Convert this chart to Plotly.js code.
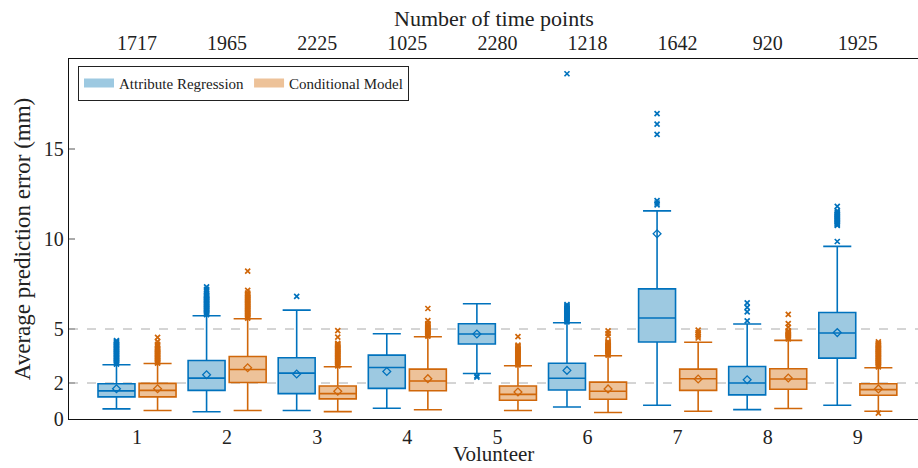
<!DOCTYPE html>
<html>
<head>
<meta charset="utf-8">
<script src="https://cdn.plot.ly/plotly-3.0.1.min.js"></script>
<style>html,body{margin:0;padding:0;background:#fff;}#chart{width:918px;height:468px;}</style>
</head>
<body>
<div id="chart"></div>
<script>
// ---- Data ----
const volunteers = [1,2,3,4,5,6,7,8,9];
const timePoints = ['1717','1965','2225','1025','2280','1218','1642','920','1925'];
const seriesNames = ['Attribute Regression','Conditional Model'];

// Attribute Regression stats
const arLow    = [0.56,0.40,0.47,0.60,2.53,0.67,0.76,0.52,0.76];
const arQ1     = [1.23,1.59,1.41,1.70,4.17,1.61,4.28,1.34,3.38];
const arMedian = [1.56,2.27,2.55,2.86,4.72,2.26,5.61,2.00,4.78];
const arQ3     = [1.96,3.25,3.40,3.55,5.29,3.10,7.23,2.92,5.92];
const arHigh   = [3.01,5.74,6.05,4.74,6.40,5.35,11.56,5.28,9.59];
const arMean   = [1.68,2.46,2.50,2.64,4.72,2.70,10.29,2.18,4.80];
const arOutliers = [
  [3.05,3.1,3.15,3.2,3.25,3.3,3.35,3.4,3.45,3.5,3.55,3.6,3.65,3.7,3.75,3.8,3.85,3.9,3.95,4.0,4.05,4.1,4.15,4.2,4.25,4.3,4.35],
  [5.8,5.85,5.9,5.95,6.0,6.05,6.1,6.15,6.2,6.25,6.3,6.35,6.4,6.45,6.5,6.55,6.6,6.65,6.7,6.75,6.8,6.85,6.9,7.0,7.1,7.2,7.34],
  [6.81],
  [],
  [2.40,2.33],
  [5.4,5.45,5.5,5.55,5.6,5.65,5.7,5.75,5.8,5.85,5.9,5.95,6.0,6.05,6.1,6.15,6.2,6.25,6.3,6.36,19.18],
  [11.9,12.0,12.13,15.81,16.38,16.97],
  [5.45,5.95,6.2,6.45],
  [9.86,10.75,10.8,10.85,10.9,10.95,11.0,11.05,11.1,11.15,11.2,11.25,11.3,11.35,11.4,11.45,11.5,11.57,11.81]
];

// Conditional Model stats
const cmLow    = [0.47,0.47,0.41,0.51,0.47,0.36,0.43,0.58,0.43];
const cmQ1     = [1.23,2.03,1.12,1.57,1.04,1.10,1.59,1.65,1.32];
const cmMedian = [1.59,2.75,1.41,2.11,1.37,1.54,2.24,2.22,1.63];
const cmQ3     = [1.98,3.47,1.83,2.77,1.83,2.05,2.77,2.79,1.96];
const cmHigh   = [3.08,5.57,2.90,4.57,2.96,3.51,4.26,4.37,2.85];
const cmMean   = [1.68,2.85,1.54,2.24,1.50,1.67,2.22,2.28,1.67];
const cmOutliers = [
  [3.1,3.15,3.2,3.25,3.3,3.35,3.4,3.45,3.5,3.55,3.6,3.65,3.7,3.75,3.8,3.85,3.9,3.95,4.05,4.15,4.3,4.54],
  [5.6,5.65,5.7,5.75,5.8,5.85,5.9,5.95,6.0,6.05,6.1,6.15,6.2,6.25,6.3,6.35,6.4,6.45,6.5,6.55,6.6,6.65,6.7,6.75,6.8,6.85,6.9,6.95,7.0,7.15,8.22],
  [2.95,3.0,3.05,3.1,3.15,3.2,3.25,3.3,3.35,3.4,3.45,3.5,3.55,3.6,3.65,3.7,3.75,3.8,3.85,3.9,3.95,4.0,4.05,4.1,4.15,4.2,4.55,4.91],
  [4.6,4.65,4.7,4.75,4.8,4.85,4.9,4.95,5.0,5.05,5.1,5.15,5.2,5.25,5.3,5.46,6.14],
  [3.0,3.05,3.1,3.15,3.2,3.25,3.3,3.35,3.4,3.45,3.5,3.55,3.6,3.65,3.7,3.75,3.8,3.85,3.9,3.95,4.0,4.05,4.1,4.58],
  [3.55,3.6,3.65,3.7,3.75,3.8,3.85,3.9,3.95,4.0,4.05,4.1,4.15,4.2,4.25,4.3,4.6,4.75,4.9],
  [4.5,4.6,4.7,4.8,4.94],
  [4.45,4.5,4.55,4.6,4.65,4.7,4.75,4.8,4.85,4.9,5.1,5.3,5.81],
  [0.33,2.9,2.95,3.0,3.05,3.1,3.15,3.2,3.25,3.3,3.35,3.4,3.45,3.5,3.55,3.6,3.65,3.7,3.75,3.8,3.85,3.9,3.95,4.0,4.05,4.1,4.15,4.2,4.28]
];
const refLevels = [2,5];

// ---- Styling ----
const blueLine = '#0072BD', blueFill = '#9DC9E1';
const orLine = '#D0670A', orFill = '#EDC299';
const OFF = 0.228, BW = 0.41;
const FONT = 'Liberation Serif, Times New Roman, serif';

function boxTrace(off, low, q1, med, q3, high, lc, fc){
  return {
    type:'box', x: volunteers.map(v=>v+off),
    q1:q1, median:med, q3:q3, lowerfence:low, upperfence:high,
    boxpoints:false, width:BW, whiskerwidth:0.76,
    line:{color:lc, width:1.6}, fillcolor:fc,
    showlegend:false, hoverinfo:'skip'
  };
}
function meanTrace(off, mean, lc){
  return {type:'scatter', mode:'markers', x: volunteers.map(v=>v+off), y: mean,
    marker:{symbol:'diamond-open', size:6, color:lc, line:{width:1.3, color:lc}},
    showlegend:false, hoverinfo:'skip'};
}
function outlierTrace(off, outs, lc){
  const xs=[], ys=[];
  outs.forEach((arr,i)=>arr.forEach(v=>{xs.push(volunteers[i]+off); ys.push(v);}));
  return {type:'scatter', mode:'markers', x:xs, y:ys,
    marker:{symbol:'x-thin', size:5, color:lc, line:{width:1.7, color:lc}},
    showlegend:false, hoverinfo:'skip'};
}

const traces = [
  boxTrace(-OFF, arLow, arQ1, arMedian, arQ3, arHigh, blueLine, blueFill),
  boxTrace(OFF, cmLow, cmQ1, cmMedian, cmQ3, cmHigh, orLine, orFill),
  outlierTrace(-OFF, arOutliers, blueLine),
  outlierTrace(OFF, cmOutliers, orLine),
  meanTrace(-OFF, arMean, blueLine),
  meanTrace(OFF, cmMean, orLine),
  {type:'scatter', mode:'lines', x:[null], y:[null], name:seriesNames[0], line:{color:blueFill, width:9}},
  {type:'scatter', mode:'lines', x:[null], y:[null], name:seriesNames[1], line:{color:orFill, width:9}},
  {type:'scatter', mode:'markers', x:[1], y:[null], xaxis:'x2', showlegend:false, hoverinfo:'skip'}
];

const xr = [0.245, 9.668];
const TICK = 20, TITLE = 22;
const layout = {
  width:918, height:468,
  margin:{l:69, r:0, t:59, b:48.5},
  paper_bgcolor:'#fff', plot_bgcolor:'#fff',
  font:{family:FONT, size:TICK, color:'#222'},
  showlegend:true,
  legend:{orientation:'h', x:0.0106, y:0.981, xanchor:'left', yanchor:'top',
    bgcolor:'#fff', bordercolor:'#222', borderwidth:1,
    font:{family:FONT, size:15, color:'#222'}, itemwidth:30, tracegroupgap:0},
  xaxis:{range:xr, tickvals:volunteers, ticktext:volunteers.map(String),
    showline:true, linecolor:'#111', linewidth:1.3, ticks:'', showgrid:false, zeroline:false,
    automargin:false, title:{text:''}, tickfont:{family:FONT, size:TICK}},
  xaxis2:{range:xr, overlaying:'x', side:'top', tickvals:volunteers, ticktext:timePoints,
    showline:true, linecolor:'#111', linewidth:1.3, ticks:'', showgrid:false, zeroline:false,
    automargin:false, title:{text:''}, tickfont:{family:FONT, size:TICK}},
  yaxis:{range:[0,20], tickvals:[0,2,5,10,15], ticktext:['0','2','5','10','15'],
    ticks:'inside', ticklen:6, tickcolor:'#aaa', tickwidth:1.2,
    showline:true, linecolor:'#111', linewidth:1.3, showgrid:false, zeroline:false,
    automargin:false, title:{text:'Average prediction error (mm)', standoff:6, font:{family:FONT, size:23}}, tickfont:{family:FONT, size:TICK}},
  annotations:[
    {text:'Volunteer', xref:'paper', yref:'paper', x:0.5, y:0, yshift:-48, xanchor:'center', yanchor:'bottom',
     showarrow:false, borderpad:0, font:{family:FONT, size:21, color:'#222'}},
    {text:'Number of time points', xref:'paper', yref:'paper', x:0.5, y:1, yshift:41, xanchor:'center', yanchor:'middle',
     showarrow:false, font:{family:FONT, size:TITLE, color:'#222'}}
  ],
  shapes: refLevels.map(v=>({type:'line', xref:'paper', yref:'y', x0:0, x1:1, y0:v, y1:v,
    line:{color:'#aaa', width:1, dash:'dash'}, layer:'below'}))
};

Plotly.newPlot('chart', traces, layout, {staticPlot:true, displayModeBar:false});
</script>
</body>
</html>
